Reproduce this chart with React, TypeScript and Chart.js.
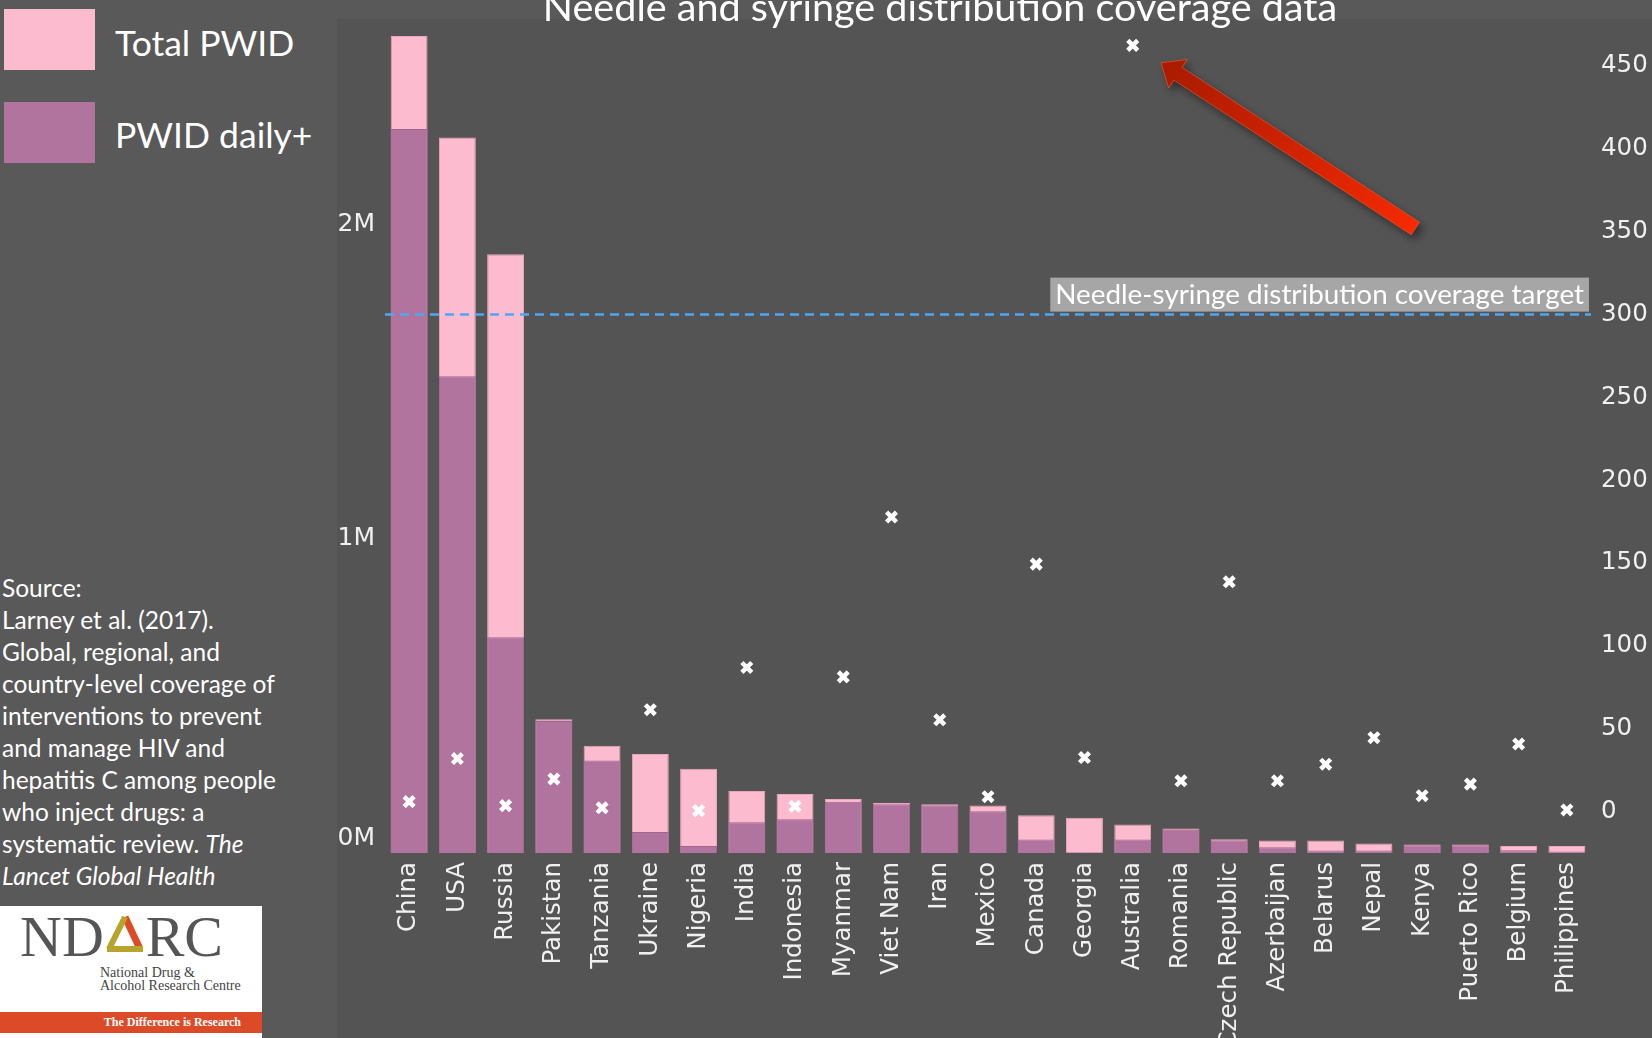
import React, { useEffect, useRef } from "react";
import { Chart, registerables } from "chart.js";

Chart.register(...registerables);

// ---------- data ----------
const countries = [
  "China", "USA", "Russia", "Pakistan", "Tanzania", "Ukraine", "Nigeria", "India",
  "Indonesia", "Myanmar", "Viet Nam", "Iran", "Mexico", "Canada", "Georgia",
  "Australia", "Romania", "Czech Republic", "Azerbaijan", "Belarus", "Nepal",
  "Kenya", "Puerto Rico", "Belgium", "Philippines",
];
const totalPWID = [
  2598000, 2275000, 1904000, 425000, 341000, 315000, 268000, 197000,
  188000, 172000, 159000, 155000, 151000, 120000, 112000,
  91000, 78000, 44000, 40000, 40000, 30000,
  27000, 27000, 22000, 22000,
];
const dailyPWID = [
  2302000, 1516000, 686000, 420000, 294000, 67000, 22000, 98000,
  107000, 163000, 155000, 151000, 133000, 43000, 2000,
  43000, 74000, 40000, 18000, 8000, 8000,
  24000, 24000, 9000, 5000,
];
// needles/syringes distributed per PWID per year
const coverage = [
  6, 32, 3.6, 19.7, 2.3, 61.5, 0.6, 87,
  3.2, 81.3, 177.8, 55.4, 9, 149.4, 32.6,
  462.5, 18.6, 138.7, 18.6, 28.6, 44.6,
  9.6, 16.6, 40.8, 1,
];
const leftTicks = [0, 1000000, 2000000];
const leftTickLabels = ["0M", "1M", "2M"];
const rightTicks = [0, 50, 100, 150, 200, 250, 300, 350, 400, 450];
const targetCoverage = 300;
const targetLabel = "Needle-syringe distribution coverage target";
// arrow annotation in (category index, coverage) units
const arrowTail = [20.86, 352];
const arrowTip = [15.59, 452];

const sourceLines: React.ReactNode[] = [
  "Source:",
  "Larney et al. (2017).",
  "Global, regional, and",
  "country-level coverage of",
  "interventions to prevent",
  "and manage HIV and",
  "hepatitis C among people",
  "who inject drugs: a",
  <>systematic review. <i>The</i></>,
  <i>Lancet Global Health</i>,
];

// ---------- styles ----------
const PINK = "#fdbbd0";
const PURPLE = "#b0749e";
const TICK = "#f0f0f0";
const OUTER_BG = "#595959";
const PANEL_BG = "#545454";
const TICK_FONT = "DejaVu Sans";
const TICK_SIZE = 24.5;

const leftLabelPlugin = {
  id: "leftLabels",
  afterDraw(chart: any) {
    const { ctx, chartArea, scales } = chart;
    const y = scales.y;
    ctx.save();
    ctx.font = `${TICK_SIZE + 0.5}px "${TICK_FONT}"`;
    ctx.fillStyle = TICK;
    ctx.textAlign = "right";
    ctx.textBaseline = "middle";
    leftTicks.forEach((v, i) => {
      const py = Math.min(y.getPixelForValue(v), chartArea.bottom - 15);
      ctx.fillText(leftTickLabels[i], chartArea.left - 10, py);
    });
    ctx.restore();
  },
};

const targetPlugin = {
  id: "target",
  afterDatasetsDraw(chart: any) {
    const { ctx, chartArea, scales } = chart;
    const py = scales.y1.getPixelForValue(targetCoverage);
    ctx.save();
    ctx.strokeStyle = "#4ea6f5";
    ctx.lineWidth = 2.5;
    ctx.setLineDash([9, 6]);
    ctx.beginPath();
    ctx.moveTo(chartArea.left, py);
    ctx.lineTo(chartArea.right, py);
    ctx.stroke();
    ctx.setLineDash([]);
    // label box
    ctx.font = "100px Lato";
    const w100 = ctx.measureText(targetLabel).width;
    const fs = (100 * 529) / w100;
    ctx.font = `${fs}px Lato`;
    const tw = ctx.measureText(targetLabel).width;
    const boxRight = chartArea.right - 2;
    const boxLeft = boxRight - tw - 10;
    const boxBottom = py - 3;
    const boxTop = boxBottom - 34;
    ctx.fillStyle = "#a6a6a6";
    ctx.fillRect(boxLeft, boxTop, boxRight - boxLeft, boxBottom - boxTop);
    ctx.fillStyle = "#ffffff";
    ctx.textAlign = "left";
    ctx.textBaseline = "alphabetic";
    ctx.fillText(targetLabel, boxLeft + 5, boxBottom - 8);
    ctx.restore();
  },
};

const arrowPlugin = {
  id: "arrow",
  afterDraw(chart: any) {
    const { ctx, scales } = chart;
    const tx = scales.x.getPixelForValue(arrowTail[0]);
    const ty = scales.y1.getPixelForValue(arrowTail[1]);
    const hx = scales.x.getPixelForValue(arrowTip[0]);
    const hy = scales.y1.getPixelForValue(arrowTip[1]);
    const dx = hx - tx, dy = hy - ty;
    const len = Math.hypot(dx, dy);
    const ux = dx / len, uy = dy / len;
    const nx = -uy, ny = ux;
    const sw = 7.5, hw = 17, hl = 20;
    const neckX = hx - ux * hl, neckY = hy - uy * hl;
    ctx.save();
    ctx.shadowColor = "rgba(0,0,0,0.45)";
    ctx.shadowBlur = 8;
    ctx.shadowOffsetX = 4;
    ctx.shadowOffsetY = 5;
    const grad = ctx.createLinearGradient(hx, hy, tx, ty);
    grad.addColorStop(0, "#a81b00");
    grad.addColorStop(1, "#f52a00");
    ctx.fillStyle = grad;
    ctx.beginPath();
    ctx.moveTo(tx + nx * sw, ty + ny * sw);
    ctx.lineTo(neckX + nx * sw, neckY + ny * sw);
    ctx.lineTo(neckX + nx * hw, neckY + ny * hw);
    ctx.lineTo(hx, hy);
    ctx.lineTo(neckX - nx * hw, neckY - ny * hw);
    ctx.lineTo(neckX - nx * sw, neckY - ny * sw);
    ctx.lineTo(tx - nx * sw, ty - ny * sw);
    ctx.closePath();
    ctx.fill();
    ctx.shadowColor = "transparent";
    ctx.strokeStyle = "rgba(255,90,40,0.6)";
    ctx.lineWidth = 1;
    ctx.stroke();
    ctx.restore();
  },
};

function PWIDChart() {
  const ref = useRef<HTMLCanvasElement | null>(null);
  useEffect(() => {
    if (!ref.current) return;
    const chart = new Chart(ref.current, {
      type: "bar",
      data: {
        labels: countries,
        datasets: [
          {
            type: "line",
            label: "Coverage",
            data: coverage,
            yAxisID: "y1",
            showLine: false,
            pointStyle: "crossRot",
            pointRadius: 7,
            pointBorderWidth: 4.5,
            pointBorderColor: "#ffffff",
            pointBackgroundColor: "#ffffff",
            order: 0,
          } as any,
          {
            type: "bar",
            label: "PWID daily+",
            data: dailyPWID,
            yAxisID: "y",
            backgroundColor: PURPLE,
            borderColor: "#a06590",
            borderWidth: 1,
            grouped: false,
            barPercentage: 0.765,
            categoryPercentage: 1,
            order: 1,
          } as any,
          {
            type: "bar",
            label: "Total PWID",
            data: totalPWID,
            yAxisID: "y",
            backgroundColor: PINK,
            borderColor: "#eaa6bd",
            borderWidth: 1,
            grouped: false,
            barPercentage: 0.765,
            categoryPercentage: 1,
            order: 2,
          } as any,
        ],
      },
      options: {
        responsive: false,
        animation: false,
        layout: { padding: { top: 18, left: 0, right: 0, bottom: 0 } },
        plugins: {
          legend: { display: false },
          tooltip: { enabled: false },
          title: { display: false },
        },
        scales: {
          x: {
            grid: { display: false, drawTicks: false },
            border: { display: false },
            ticks: {
              color: TICK,
              font: { family: TICK_FONT, size: TICK_SIZE },
              minRotation: 90,
              maxRotation: 90,
              autoSkip: false,
              padding: 9,
            },
            afterFit: (s: any) => {
              s.height = 185;
            },
          },
          y: {
            position: "left",
            min: 0,
            max: 2634000,
            grid: { display: false, drawTicks: false },
            border: { display: false },
            ticks: { display: false },
            afterBuildTicks: (s: any) => {
              s.ticks = leftTicks.map((v) => ({ value: v }));
            },
            afterFit: (s: any) => {
              s.width = 48;
            },
          },
          y1: {
            position: "right",
            min: -25,
            max: 475,
            grid: { display: false, drawTicks: false },
            border: { display: false },
            ticks: {
              color: TICK,
              font: { family: TICK_FONT, size: TICK_SIZE },
              padding: 10,
            },
            afterBuildTicks: (s: any) => {
              s.ticks = rightTicks.map((v) => ({ value: v }));
            },
            afterFit: (s: any) => {
              s.width = 61;
            },
          },
        },
      } as any,
      plugins: [leftLabelPlugin, targetPlugin, arrowPlugin],
    });
    return () => chart.destroy();
  }, []);
  return (
    <canvas
      ref={ref}
      width={1315}
      height={1038}
      style={{ position: "absolute", left: 337, top: 0, width: 1315, height: 1038 }}
    />
  );
}

function Logo() {
  return (
    <div
      style={{
        position: "absolute",
        left: 0,
        top: 906,
        width: 262,
        height: 132,
        background: "#ffffff",
        fontFamily: '"Liberation Serif", serif',
      }}
    >
      <div
        style={{
          position: "absolute",
          left: 20,
          top: 2,
          fontSize: 58,
          lineHeight: "58px",
          color: "#555555",
          whiteSpace: "nowrap",
        }}
      >
        ND
        <span style={{ position: "relative", color: "transparent" }}>
          A
          <svg
            width="42"
            height="42"
            viewBox="0 0 42 42"
            style={{ position: "absolute", left: 0, top: 9 }}
          >
            <line x1="21" y1="4" x2="36" y2="36" stroke="#de4b24" strokeWidth="7" />
            <line x1="21" y1="4" x2="5" y2="36" stroke="#b8a32c" strokeWidth="6" />
            <line x1="3" y1="36" x2="39" y2="36" stroke="#b8a32c" strokeWidth="6" />
          </svg>
        </span>
        RC
      </div>
      <div
        style={{
          position: "absolute",
          left: 100,
          top: 60,
          fontSize: 14,
          lineHeight: "13px",
          color: "#444444",
          whiteSpace: "nowrap",
        }}
      >
        National Drug &amp;
        <br />
        Alcohol Research Centre
      </div>
      <div
        style={{
          position: "absolute",
          left: 0,
          top: 106,
          width: 262,
          height: 21,
          background: "#dc4a28",
          color: "#ffffff",
          fontSize: 12,
          fontWeight: "bold",
          lineHeight: "21px",
          textAlign: "right",
          boxSizing: "border-box",
          paddingRight: 21,
          whiteSpace: "nowrap",
        }}
      >
        The Difference is Research
      </div>
    </div>
  );
}

export default function App() {
  const textFont = 'Lato, "Open Sans", sans-serif';
  return (
    <div
      style={{
        position: "fixed",
        left: 0,
        top: 0,
        width: 1652,
        height: 1038,
        background: OUTER_BG,
        overflow: "hidden",
        fontFamily: textFont,
        color: "#ffffff",
      }}
    >
      <div
        style={{
          position: "absolute",
          left: 337,
          top: 19,
          right: 0,
          bottom: 0,
          background: PANEL_BG,
        }}
      />
      <PWIDChart />
      {/* title */}
      <div
        style={{
          position: "absolute",
          left: 940,
          top: -14,
          transform: "translateX(-50%)",
          fontSize: 39.6,
          lineHeight: "39px",
          whiteSpace: "nowrap",
        }}
      >
        Needle and syringe distribution coverage data
      </div>
      {/* legend */}
      <div style={{ position: "absolute", left: 4, top: 9, width: 91, height: 61, background: PINK }} />
      <div style={{ position: "absolute", left: 4, top: 102, width: 91, height: 61, background: PURPLE }} />
      <div
        style={{ position: "absolute", left: 115, top: 24.5, fontSize: 35.5, lineHeight: "35.5px", whiteSpace: "nowrap" }}
      >
        Total PWID
      </div>
      <div
        style={{ position: "absolute", left: 115, top: 116.5, fontSize: 35.5, lineHeight: "35.5px", whiteSpace: "nowrap" }}
      >
        PWID daily+
      </div>
      {/* source */}
      <div
        style={{
          position: "absolute",
          left: 2,
          top: 572,
          fontSize: 24.5,
          lineHeight: "32px",
          whiteSpace: "nowrap",
        }}
      >
        {sourceLines.map((l, i) => (
          <div key={i}>{l}</div>
        ))}
      </div>
      <Logo />
    </div>
  );
}
